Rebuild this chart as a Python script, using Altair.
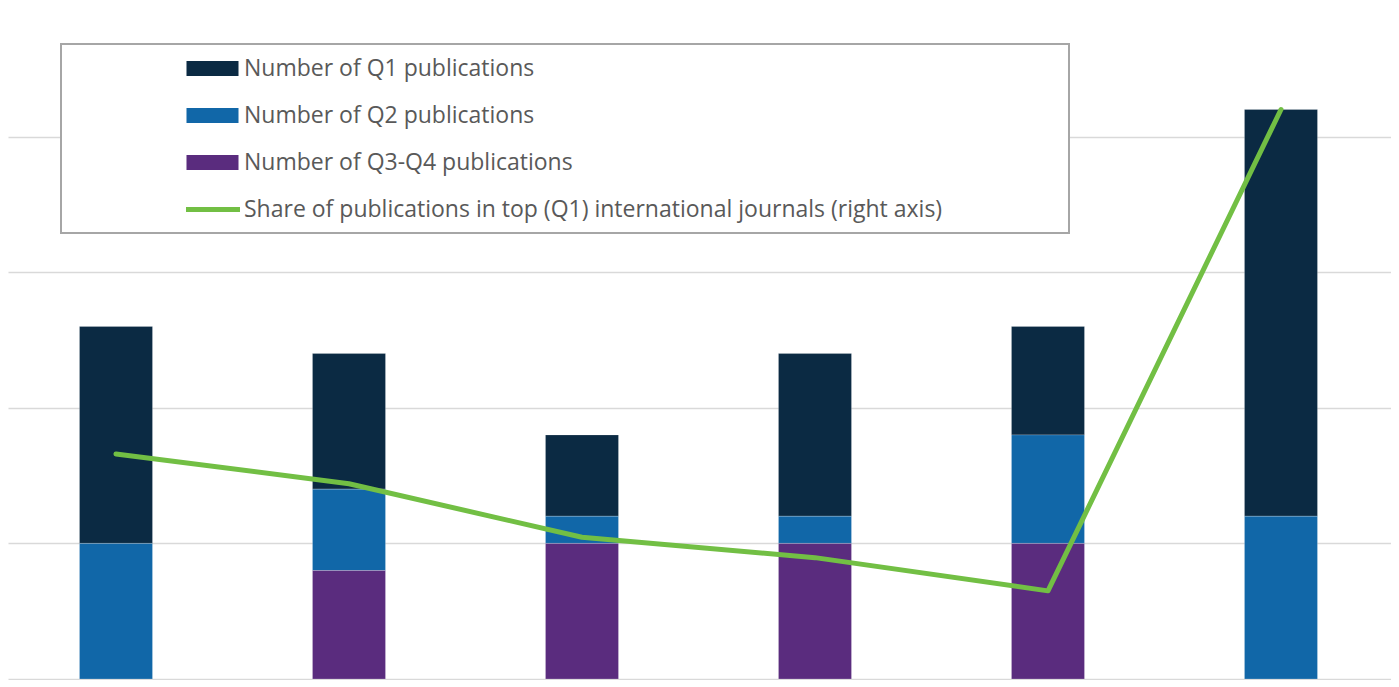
import altair as alt
import pandas as pd

# ---- data ----
categories = ["1", "2", "3", "4", "5", "6"]
q1_counts = [8, 5, 3, 6, 4, 15]
q2_counts = [5, 3, 1, 1, 4, 6]
q34_counts = [0, 4, 5, 5, 5, 0]
share_q1 = [0.332, 0.288, 0.209, 0.179, 0.130, 0.840]

series_names = [
    "Number of Q1 publications",
    "Number of Q2 publications",
    "Number of Q3-Q4 publications",
]
line_name = "Share of publications in top (Q1) international journals (right axis)"
bar_colors = ["#0B2A43", "#1167A8", "#5A2C7E"]
line_color = "#72BF44"

rows = []
for i, c in enumerate(categories):
    for rank, (name, vals) in enumerate(zip(series_names, [q1_counts, q2_counts, q34_counts])):
        if vals[i] > 0:
            rows.append({"cat": c, "series": name, "value": vals[i], "rank": 2 - rank})
bars_df = pd.DataFrame(rows)
line_df = pd.DataFrame({"cat": categories, "share": share_q1, "name": [line_name] * len(categories)})

W, H = 1383, 671
FONT = "Open Sans"

x_scale = alt.Scale(domain=categories, paddingInner=0.6867, paddingOuter=0.3112, align=0.493)
x_enc = alt.X("cat:N", scale=x_scale, axis=None)

legend_common = dict(
    title=None,
    orient="none",
    direction="vertical",
    legendX=178,
    symbolSize=484,
    clipHeight=27,
    rowPadding=20,
    labelFont=FONT,
    labelFontSize=23,
    labelColor="#595959",
    labelLimit=1000,
    padding=0,
)

box = alt.Chart(pd.DataFrame({"k": [0]})).mark_rect(
    fill="white", stroke="#A6A6A6", strokeWidth=2
).encode(
    x=alt.value(53), x2=alt.value(1061), y=alt.value(36), y2=alt.value(225)
)

bars = alt.Chart(bars_df).mark_bar(
    stroke="#ffffff", strokeWidth=0.6, strokeOpacity=0.35
).encode(
    x=x_enc,
    y=alt.Y(
        "value:Q",
        stack="zero",
        scale=alt.Scale(domain=[0, 24.742], nice=False, zero=True),
        axis=alt.Axis(
            title=None, labels=False, ticks=False, domain=False, grid=True,
            values=[0, 5, 10, 15, 20], gridColor="#D9D9D9", gridWidth=1.5,
        ),
    ),
    color=alt.Color(
        "series:N",
        scale=alt.Scale(domain=series_names, range=bar_colors),
        legend=alt.Legend(
            legendY=47,
            symbolType="M-2.364,-0.682H2.364V0.682H-2.364Z",
            symbolStrokeWidth=0,
            symbolOffset=15,
            labelOffset=20,
            **legend_common,
        ),
    ),
    order=alt.Order("rank:Q", sort="ascending"),
)

line = alt.Chart(line_df).mark_line(
    strokeWidth=5, strokeCap="round", strokeJoin="round"
).encode(
    x=x_enc,
    y=alt.Y("share:Q", scale=alt.Scale(domain=[0, 0.9897], nice=False), axis=None),
    color=alt.Color(
        "name:N",
        scale=alt.Scale(domain=[line_name], range=[line_color]),
        legend=alt.Legend(
            legendY=188,
            symbolType="M-2.545,0H2.545",
            symbolStrokeWidth=5,
            symbolOffset=12.5,
            labelOffset=18.5,
            **legend_common,
        ),
    ),
)

chart = (
    alt.layer(box, bars, line)
    .resolve_scale(y="independent", color="independent")
    .properties(width=W, height=H, padding=0)
    .configure_view(stroke=None)
)

chart.save("out.html", embed_options={"renderer": "svg", "actions": False})
